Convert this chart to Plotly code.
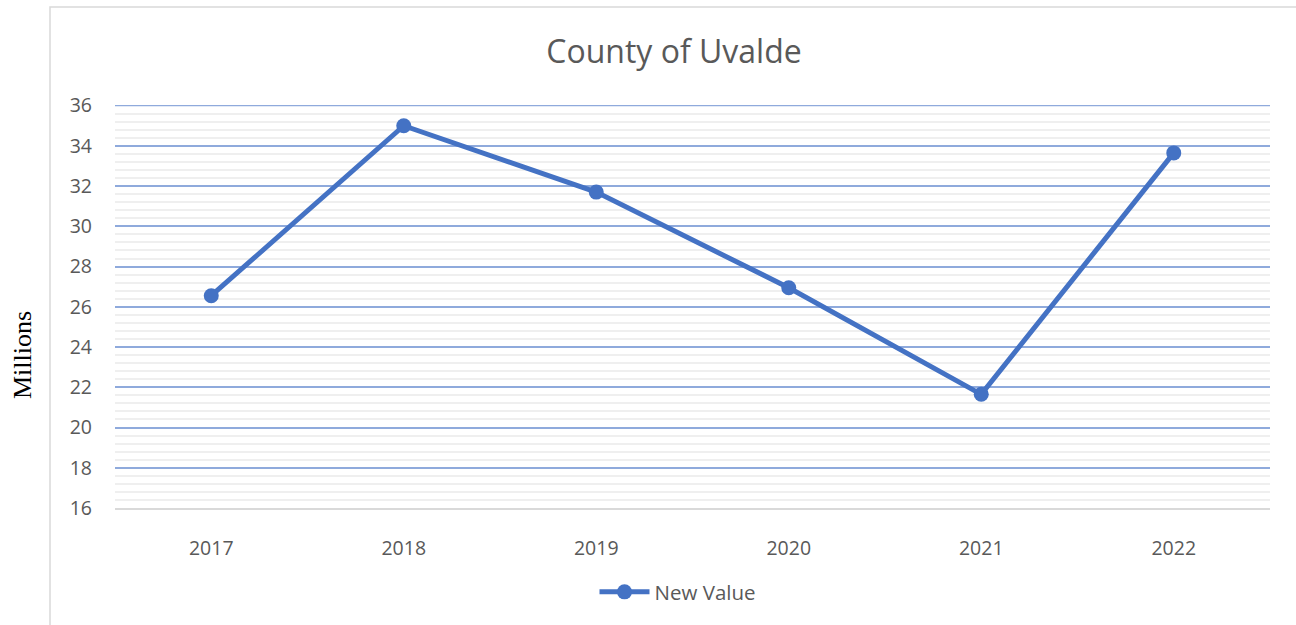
import plotly.graph_objects as go

years = ["2017", "2018", "2019", "2020", "2021", "2022"]
values = [26.55, 35.0, 31.7, 26.95, 21.65, 33.65]
y_ticks = [16, 18, 20, 22, 24, 26, 28, 30, 32, 34, 36]

W, H = 1296, 625
L, R, T, B = 115, 26, 105, 117
pw, ph = W - L - R, H - T - B

fig = go.Figure()
fig.add_trace(go.Scatter(
    x=years, y=values, mode="lines+markers", name="New Value",
    line=dict(color="#4472C4", width=5),
    marker=dict(color="#4472C4", size=15),
))

fig.update_layout(
    width=W, height=H,
    margin=dict(l=L, r=R, t=T, b=B),
    paper_bgcolor="white", plot_bgcolor="white",
    font=dict(family="Open Sans, Lato, sans-serif", color="#595959", size=19),
    title=dict(text="County of Uvalde", x=674 / W, xanchor="center",
               y=1 - 52 / H, yanchor="middle",
               font=dict(size=32, color="#595959")),
    showlegend=True,
    legend=dict(orientation="h", x=(678 - L) / pw, xanchor="center",
                y=-(592 - 508) / ph, yanchor="middle",
                font=dict(size=20.5, color="#595959"),
                itemwidth=50,
                bgcolor="rgba(0,0,0,0)"),
    xaxis=dict(type="category", range=[-0.5, 5.5], showgrid=False,
               showline=True, linecolor="#D9D9D9", linewidth=1.5,
               ticks="", ticklabelstandoff=22,
               tickfont=dict(size=19.5, color="#595959"), zeroline=False),
    yaxis=dict(range=[16, 36.03], tickvals=y_ticks, showgrid=True,
               gridcolor="#8FAADC", gridwidth=1.5, zeroline=False,
               ticks="", ticklabelstandoff=22,
               tickfont=dict(size=19.5, color="#595959"),
               minor=dict(dtick=0.4, tick0=16, showgrid=True,
                          gridcolor="#EFEFEF", gridwidth=1.5)),
    annotations=[dict(text="Millions", xref="paper", yref="paper",
                      x=(22 - L) / pw, y=(508 - 355) / ph, textangle=-90,
                      showarrow=False, xanchor="center", yanchor="middle",
                      font=dict(family="Liberation Serif, Times New Roman, serif",
                                size=26, color="black"))],
    shapes=[
        dict(type="rect", xref="paper", yref="paper",
             x0=(50 - L) / pw, y0=-1, x1=1.5, y1=(508 - 7) / ph,
             line=dict(color="#D9D9D9", width=1.5), layer="below"),
        dict(type="line", xref="paper", yref="y", x0=0, x1=1,
             y0=max(y_ticks), y1=max(y_ticks),
             line=dict(color="#8FAADC", width=1.5), layer="below"),
    ],
)

fig.write_html("out.html")
